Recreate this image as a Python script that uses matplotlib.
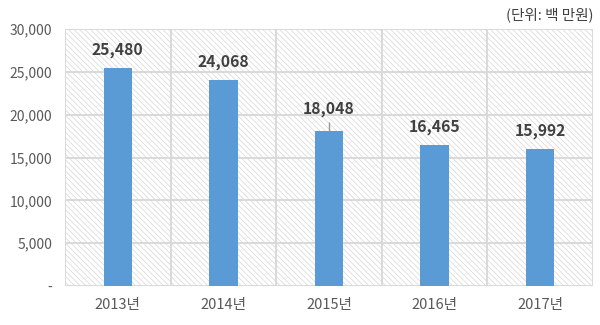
import matplotlib
matplotlib.use("Agg")
import matplotlib.pyplot as plt
from matplotlib.patches import Rectangle

plt.rcParams['font.family'] = ['Noto Sans CJK KR', 'DejaVu Sans']
plt.rcParams['hatch.color'] = '#d6d6d6'
plt.rcParams['hatch.linewidth'] = 0.5

categories = ['2013년', '2014년', '2015년', '2016년', '2017년']
values = [25480, 24068, 18048, 16465, 15992]
label_texts = ['25,480', '24,068', '18,048', '16,465', '15,992']
yticks = [0, 5000, 10000, 15000, 20000, 25000, 30000]
ytick_labels = ['-', '5,000', '10,000', '15,000', '20,000', '25,000', '30,000']
unit_text = '(단위: 백 만원)'

fig = plt.figure(figsize=(6, 3.25), dpi=100)
ax = fig.add_axes([65/600, 1 - 286/325, (593-65)/600, (286-29)/325])

ax.set_xlim(-0.5, len(categories) - 0.5)
ax.set_ylim(0, 30000)

# hatched background
bg = Rectangle((0, 0), 1, 1, transform=ax.transAxes, facecolor='white',
               edgecolor='#d6d6d6', hatch='\\\\\\\\\\\\', linewidth=0, zorder=0)
ax.add_patch(bg)

# gridlines
for y in yticks:
    ax.axhline(y, color='#d9d9d9', linewidth=1.4, zorder=1)
for i in range(len(categories) + 1):
    ax.axvline(i - 0.5, color='#d9d9d9', linewidth=1.4, zorder=1)

x = list(range(len(categories)))
ax.bar(x, values, width=0.27, color='#5B9BD5', zorder=3)

offsets = [13, 13, 16, 13, 13]
for xi, v, t, off in zip(x, values, label_texts, offsets):
    ax.annotate(t, xy=(xi, v), xytext=(0, off), textcoords='offset points',
                ha='center', va='center', fontsize=11.3, fontweight='bold',
                color='#404040', zorder=4)
    if off > 13:
        # leader line
        ax.plot([xi, xi], [v, v + 1100], color='#999999', lw=1.0, zorder=5,
                solid_capstyle='butt')

ax.set_yticks(yticks)
ax.set_yticklabels(ytick_labels, fontsize=10, color='#595959')
ax.set_xticks(x)
ax.set_xticklabels(categories, fontsize=10.5, color='#595959')
ax.tick_params(axis='both', length=0)
ax.tick_params(axis='x', pad=9)
ax.tick_params(axis='y', pad=9)
for s in ax.spines.values():
    s.set_visible(False)

fig.text(593/600, 1 - 15/325, unit_text, ha='right', va='center',
         fontsize=10.5, color='#404040')

fig.savefig('out.png', dpi=100, facecolor='white')
